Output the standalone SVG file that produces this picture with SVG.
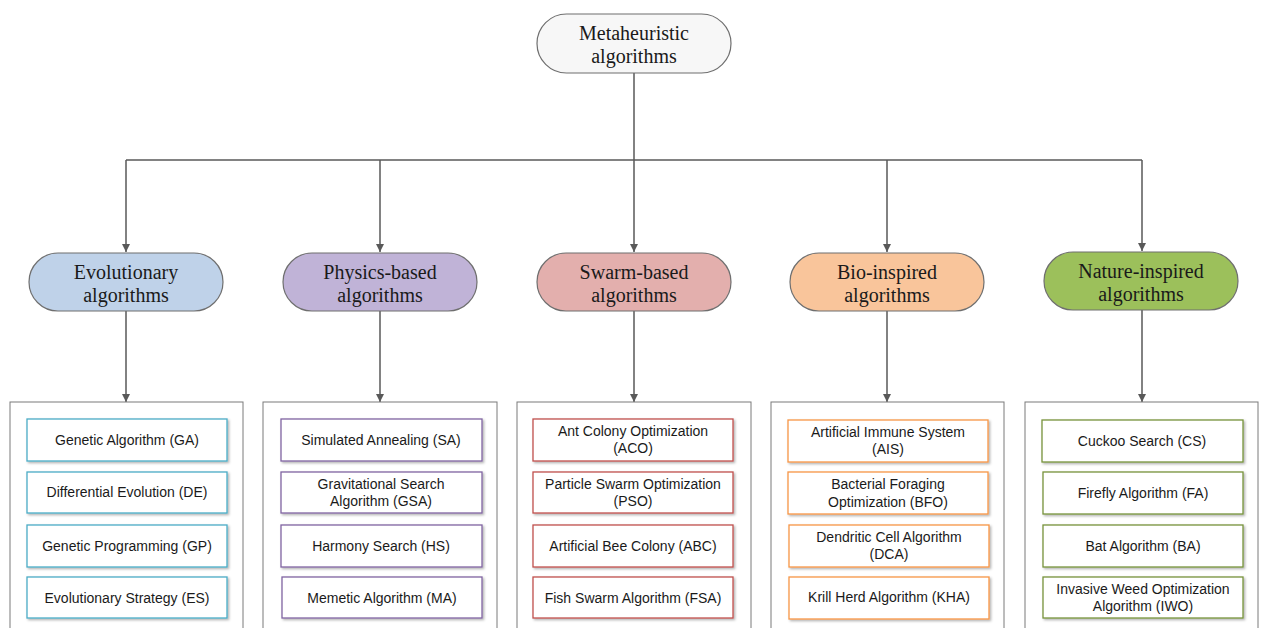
<svg xmlns="http://www.w3.org/2000/svg" width="1262" height="628" viewBox="0 0 1262 628">
<defs>
<marker id="ah" viewBox="0 0 10 10" refX="10" refY="5" markerWidth="8" markerHeight="8" markerUnits="userSpaceOnUse" orient="auto">
<path d="M0,0 L10,5 L0,10 z" fill="#595959"/>
</marker>
<filter id="sh" x="-10%" y="-20%" width="125%" height="150%">
<feDropShadow dx="1.5" dy="1.5" stdDeviation="1.2" flood-color="#000" flood-opacity="0.3"/>
</filter>
</defs>
<style>
.pill{stroke:#6f6f6f;stroke-width:1.2}
.ser{font-family:"Liberation Serif","Times New Roman",serif;font-size:20px;fill:#1a1a1a;text-anchor:middle}
.san{font-family:"Liberation Sans",Arial,sans-serif;font-size:14px;fill:#1a1a1a;text-anchor:middle}
.outer{fill:#fff;stroke:#7a7a7a;stroke-width:1}
.item{fill:#fff;stroke-width:1.3;filter:url(#sh)}
.c1{stroke:#4bacc6}.c2{stroke:#8064a2}.c3{stroke:#c0504d}.c4{stroke:#f79646}.c5{stroke:#77933c}
.con{fill:none;stroke:#595959;stroke-width:1.5}
</style>
<rect width="1262" height="628" fill="#fff"/>

<g id="connectors">
<path class="con" d="M634,73 V160 M126,160 H1142"/>
<path class="con" marker-end="url(#ah)" d="M126,160 V252"/>
<path class="con" marker-end="url(#ah)" d="M380,160 V252"/>
<path class="con" marker-end="url(#ah)" d="M634,160 V252"/>
<path class="con" marker-end="url(#ah)" d="M887,160 V252"/>
<path class="con" marker-end="url(#ah)" d="M1142,160 V251"/>
<path class="con" marker-end="url(#ah)" d="M126,311 V402"/>
<path class="con" marker-end="url(#ah)" d="M380,311 V402"/>
<path class="con" marker-end="url(#ah)" d="M634,311 V402"/>
<path class="con" marker-end="url(#ah)" d="M887,311 V402"/>
<path class="con" marker-end="url(#ah)" d="M1142,310 V402"/>
</g>

<g id="root">
<rect class="pill" x="537" y="14" width="194" height="59" rx="29.5" fill="#f7f7f7"/>
<text class="ser" x="634" y="40">Metaheuristic</text>
<text class="ser" x="634" y="63">algorithms</text>
</g>

<g id="cat-evolutionary">
<rect class="pill" x="29" y="253" width="194" height="58" rx="29" fill="#bfd2e9"/>
<text class="ser" x="126" y="279">Evolutionary</text>
<text class="ser" x="126" y="302">algorithms</text>
</g>
<g id="cat-physics">
<rect class="pill" x="283" y="253" width="194" height="58" rx="29" fill="#c0b3d7"/>
<text class="ser" x="380" y="279">Physics-based</text>
<text class="ser" x="380" y="302">algorithms</text>
</g>
<g id="cat-swarm">
<rect class="pill" x="537" y="253" width="194" height="58" rx="29" fill="#e3afad"/>
<text class="ser" x="634" y="279">Swarm-based</text>
<text class="ser" x="634" y="302">algorithms</text>
</g>
<g id="cat-bio">
<rect class="pill" x="790" y="253" width="194" height="58" rx="29" fill="#f9c59b"/>
<text class="ser" x="887" y="279">Bio-inspired</text>
<text class="ser" x="887" y="302">algorithms</text>
</g>
<g id="cat-nature">
<rect class="pill" x="1044" y="252" width="194" height="58" rx="29" fill="#9cc05b"/>
<text class="ser" x="1141" y="278">Nature-inspired</text>
<text class="ser" x="1141" y="301">algorithms</text>
</g>

<g id="box-evolutionary">
<rect class="outer" x="10" y="402" width="233" height="240"/>
<rect class="item c1" x="27" y="419" width="200" height="42"/>
<text class="san" x="127" y="445">Genetic Algorithm (GA)</text>
<rect class="item c1" x="27" y="472" width="200" height="41"/>
<text class="san" x="127" y="497">Differential Evolution (DE)</text>
<rect class="item c1" x="27" y="525" width="200" height="42"/>
<text class="san" x="127" y="551">Genetic Programming (GP)</text>
<rect class="item c1" x="27" y="577" width="200" height="41"/>
<text class="san" x="127" y="603">Evolutionary Strategy (ES)</text>
</g>

<g id="box-physics">
<rect class="outer" x="263" y="402" width="234" height="240"/>
<rect class="item c2" x="281" y="419" width="201" height="42"/>
<text class="san" x="381" y="445">Simulated Annealing (SA)</text>
<rect class="item c2" x="281" y="472" width="201" height="41"/>
<text class="san" x="381" y="489">Gravitational Search</text>
<text class="san" x="381" y="506">Algorithm (GSA)</text>
<rect class="item c2" x="281" y="525" width="201" height="42"/>
<text class="san" x="381" y="551">Harmony Search (HS)</text>
<rect class="item c2" x="282" y="577" width="200" height="41"/>
<text class="san" x="382" y="603">Memetic Algorithm (MA)</text>
</g>

<g id="box-swarm">
<rect class="outer" x="517" y="402" width="234" height="240"/>
<rect class="item c3" x="533" y="419" width="200" height="42"/>
<text class="san" x="633" y="436">Ant Colony Optimization</text>
<text class="san" x="633" y="453">(ACO)</text>
<rect class="item c3" x="533" y="472" width="200" height="41"/>
<text class="san" x="633" y="489">Particle Swarm Optimization</text>
<text class="san" x="633" y="506">(PSO)</text>
<rect class="item c3" x="533" y="525" width="200" height="42"/>
<text class="san" x="633" y="551">Artificial Bee Colony (ABC)</text>
<rect class="item c3" x="533" y="577" width="200" height="41"/>
<text class="san" x="633" y="603">Fish Swarm Algorithm (FSA)</text>
</g>

<g id="box-bio">
<rect class="outer" x="771" y="402" width="233" height="240"/>
<rect class="item c4" x="788" y="420" width="200" height="42"/>
<text class="san" x="888" y="437">Artificial Immune System</text>
<text class="san" x="888" y="454">(AIS)</text>
<rect class="item c4" x="788" y="472" width="200" height="42"/>
<text class="san" x="888" y="489">Bacterial Foraging</text>
<text class="san" x="888" y="507">Optimization (BFO)</text>
<rect class="item c4" x="789" y="525" width="200" height="42"/>
<text class="san" x="889" y="542">Dendritic Cell Algorithm</text>
<text class="san" x="889" y="559">(DCA)</text>
<rect class="item c4" x="789" y="577" width="200" height="42"/>
<text class="san" x="889" y="602">Krill Herd Algorithm (KHA)</text>
</g>

<g id="box-nature">
<rect class="outer" x="1025" y="402" width="233" height="240"/>
<rect class="item c5" x="1042" y="420" width="201" height="42"/>
<text class="san" x="1142" y="446">Cuckoo Search (CS)</text>
<rect class="item c5" x="1043" y="472" width="200" height="42"/>
<text class="san" x="1143" y="498">Firefly Algorithm (FA)</text>
<rect class="item c5" x="1043" y="525" width="200" height="42"/>
<text class="san" x="1143" y="551">Bat Algorithm (BA)</text>
<rect class="item c5" x="1043" y="577" width="200" height="41"/>
<text class="san" x="1143" y="594">Invasive Weed Optimization</text>
<text class="san" x="1143" y="611">Algorithm (IWO)</text>
</g>
</svg>
